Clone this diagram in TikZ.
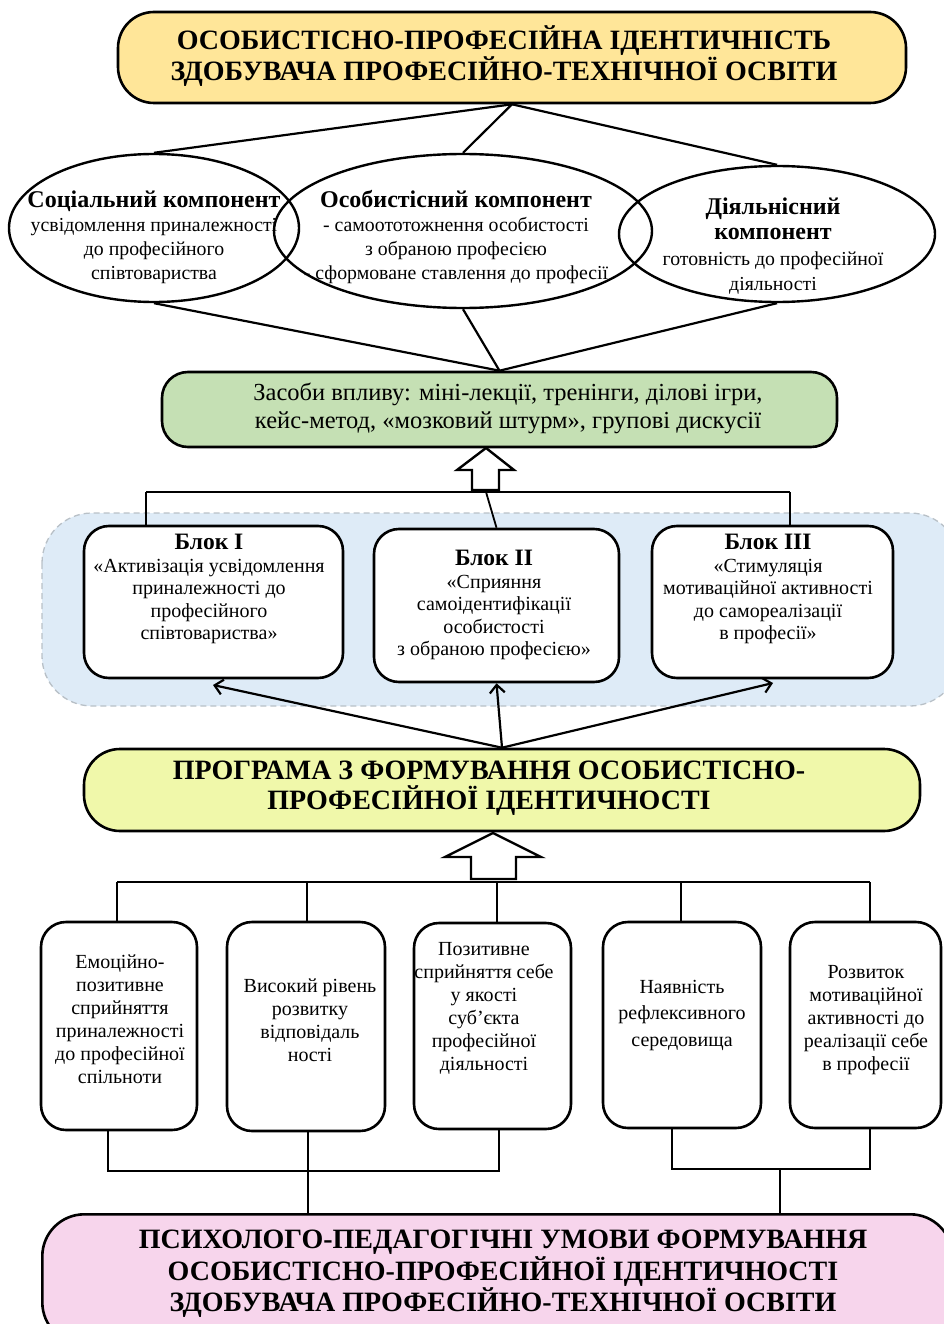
\documentclass[tikz,border=0pt]{standalone}
\usepackage{fontspec}
\setmainfont{Liberation Serif}
\usetikzlibrary{shapes.geometric,arrows.meta}
\definecolor{cTop}{HTML}{FFE699}
\definecolor{cGreen}{HTML}{C5E0B4}
\definecolor{cBlue}{HTML}{DEEBF7}
\definecolor{cProg}{HTML}{F0F8AA}
\definecolor{cPink}{HTML}{F7D5EC}
\begin{document}
\begin{tikzpicture}[x=1pt,y=-1pt,
  box/.style={draw=black, line width=2.6pt, inner sep=0pt},
  ell/.style={ellipse, draw=black, line width=2.4pt, inner sep=0pt},
  lnk/.style={line width=2.2pt},
  thin/.style={line width=1.8pt},
  hollow/.style={draw=black, fill=white, line width=2.4pt, line join=miter},
  tx/.style={align=center, inner sep=0pt},
  bigb/.style={tx, font=\bfseries\fontsize{28}{31}\selectfont},
  etxt/.style={tx, font=\fontsize{19.8}{24}\selectfont},
  btxt/.style={tx, font=\fontsize{20}{22.5}\selectfont},
  ctxt/.style={tx, font=\fontsize{20}{23}\selectfont},
  arr/.style={line width=2.2pt, -{Straight Barb[length=8pt,width=15pt,line width=2.2pt]}}
]
\useasboundingbox (0,0) rectangle (943,1324);

% top box
\node[box, fill=cTop, rounded corners=36pt, minimum width=788pt, minimum height=91pt] (top) at (512,57.5) {};
\node[bigb] (topt) at (504,56) {ОСОБИСТІСНО-ПРОФЕСІЙНА ІДЕНТИЧНІСТЬ\\ЗДОБУВАЧА ПРОФЕСІЙНО-ТЕХНІЧНОЇ ОСВІТИ};

% ellipses
\node[ell, minimum width=290pt, minimum height=148pt] (e1) at (154,228) {};
\node[ell, minimum width=378pt, minimum height=154pt] (e2) at (463,231) {};
\node[ell, minimum width=316pt, minimum height=136pt] (e3) at (777,234) {};
\node[etxt] (e1t) at (154,237) {\textbf{\fontsize{24}{24}\selectfont Соціальний компонент}\\усвідомлення приналежності\\до професійного\\співтовариства};
\node[etxt] (e2t) at (456,237) {\textbf{\fontsize{24}{24}\selectfont Особистісний компонент}\\- самоототожнення особистості\\з обраною професією\\- сформоване ставлення до професії};
\node[etxt, font=\fontsize{19.8}{25.5}\selectfont] (e3t) at (773,246) {\textbf{\fontsize{24}{25.5}\selectfont Діяльнісний}\\\textbf{\fontsize{24}{25.5}\selectfont компонент}\\готовність до професійної\\діяльності};

\draw[lnk] (top.south) -- (e1.north);
\draw[lnk] (top.south) -- (e2.north);
\draw[lnk] (top.south) -- (e3.north);

% green box
\node[box, fill=cGreen, rounded corners=26pt, minimum width=675pt, minimum height=75pt] (green) at (499.5,409.5) {};
\node[tx, font=\fontsize{24.5}{28}\selectfont] (greent) at (508,408) {Засоби впливу: міні-лекції, тренінги, ділові ігри,\\кейс-метод, «мозковий штурм», групові дискусії};
\draw[lnk] (e1.south) -- (green.north);
\draw[lnk] (e2.south) -- (green.north);
\draw[lnk] (e3.south) -- (green.north);

% blue dashed region
\draw[cBlue!60!gray, dashed, line width=1.3pt, fill=cBlue, rounded corners=50pt, dash pattern=on 6pt off 4pt] (42,513) rectangle (960,706);

% hollow arrow 1
\coordinate (h1) at (486,448);
\draw[hollow] (h1) -- (514,470) -- (499,470) -- (499,490) -- (472,490) -- (472,470) -- (457,470) -- cycle;

% blocks
\node[box, fill=white, rounded corners=25pt, minimum width=259pt, minimum height=152pt] (b1) at (213.5,602) {};
\node[box, fill=white, rounded corners=25pt, minimum width=245pt, minimum height=153pt] (b2) at (496.5,605.5) {};
\node[box, fill=white, rounded corners=25pt, minimum width=241pt, minimum height=152pt] (b3) at (772.5,602) {};
\node[btxt] (b1t) at (209,589) {\textbf{\fontsize{23.5}{25}\selectfont Блок I}\\«Активізація усвідомлення\\приналежності до\\професійного\\співтовариства»};
\node[btxt] (b2t) at (494,605) {\textbf{\fontsize{23.5}{25}\selectfont Блок II}\\«Сприяння\\самоідентифікації\\особистості\\з обраною професією»};
\node[btxt] (b3t) at (768,589) {\textbf{\fontsize{23.5}{25}\selectfont Блок III}\\«Стимуляція\\мотиваційної активності\\до самореалізації\\в професії»};

\coordinate (j1) at (146,492);
\coordinate (j2) at (790,492);
\coordinate (jm) at (486,492);
\draw[thin] (j1) -- (j2);
\draw[thin] (j1) -- (j1 |- b1.north);
\draw[thin] (j2) -- (j2 |- b3.north);
\draw[thin] (jm) -- (b2.north);

% program box
\node[box, fill=cProg, rounded corners=36pt, minimum width=836pt, minimum height=82pt] (prog) at (502,790) {};
\node[bigb, font=\bfseries\fontsize{28}{30}\selectfont] (progt) at (489,788) {ПРОГРАМА З ФОРМУВАННЯ ОСОБИСТІСНО-\\ПРОФЕСІЙНОЇ ІДЕНТИЧНОСТІ};

\draw[arr] (prog.north) -- (213,685);
\draw[arr] (prog.north) -- (b2.south);
\draw[arr] (prog.north) -- (773,683);

% hollow arrow 2
\coordinate (h2) at (493,833);
\draw[hollow] (h2) -- (541,857) -- (516,857) -- (516,879) -- (471,879) -- (471,857) -- (445,857) -- cycle;

% conditions
\node[box, fill=white, rounded corners=25pt, minimum width=156pt, minimum height=208pt] (c1) at (119,1026) {};
\node[box, fill=white, rounded corners=25pt, minimum width=158pt, minimum height=209pt] (c2) at (306,1026.5) {};
\node[box, fill=white, rounded corners=25pt, minimum width=157pt, minimum height=206pt] (c3) at (492.5,1026) {};
\node[box, fill=white, rounded corners=25pt, minimum width=158pt, minimum height=206pt] (c4) at (682,1025) {};
\node[box, fill=white, rounded corners=25pt, minimum width=151pt, minimum height=206pt] (c5) at (865.5,1025) {};
\node[ctxt] (c1t) at (120,1019) {Емоційно-\\позитивне\\сприйняття\\приналежності\\до професійної\\спільноти};
\node[ctxt] (c2t) at (310,1020) {Високий рівень\\розвитку\\відповідаль\\ності};
\node[ctxt] (c3t) at (484,1008) {Позитивне\\сприйняття себе\\у якості\\суб’єкта\\професійної\\діяльності};
\node[ctxt, font=\fontsize{20}{26.5}\selectfont] (c4t) at (682,1015) {Наявність\\рефлексивного\\середовища};
\node[ctxt] (c5t) at (866,1020) {Розвиток\\мотиваційної\\активності до\\реалізації себе\\в професії};

\coordinate (k1) at (117,882);
\coordinate (k5) at (870,882);
\draw[thin] (k1) -- (k5);
\draw[thin] (k1) -- (k1 |- c1.north);
\draw[thin] (307,882) -- (307,922);
\draw[thin] (497,882) -- (497,923);
\draw[thin] (681,882) -- (681,922);
\draw[thin] (k5) -- (k5 |- c5.north);

% pink box
\node[box, fill=cPink, rounded corners=42pt, minimum width=910pt, minimum height=130pt, anchor=north west] (pink) at (41,1213) {};
\node[bigb, font=\bfseries\fontsize{28}{31.5}\selectfont] (pinkt) at (503,1274) {ПСИХОЛОГО-ПЕДАГОГІЧНІ УМОВИ ФОРМУВАННЯ\\ОСОБИСТІСНО-ПРОФЕСІЙНОЇ ІДЕНТИЧНОСТІ\\ЗДОБУВАЧА ПРОФЕСІЙНО-ТЕХНІЧНОЇ ОСВІТИ};

\coordinate (m1) at (108,1171);
\coordinate (m3) at (499,1171);
\coordinate (m4) at (672,1169);
\coordinate (m5) at (870,1169);
\draw[thin] (m1 |- c1.south) -- (m1) -- (m3) -- (m3 |- c3.south);
\draw[thin] (308,1131) -- (308,1213);
\draw[thin] (m4 |- c4.south) -- (m4) -- (m5) -- (m5 |- c5.south);
\draw[thin] (780,1169) -- (780,1213);
\end{tikzpicture}
\end{document}
